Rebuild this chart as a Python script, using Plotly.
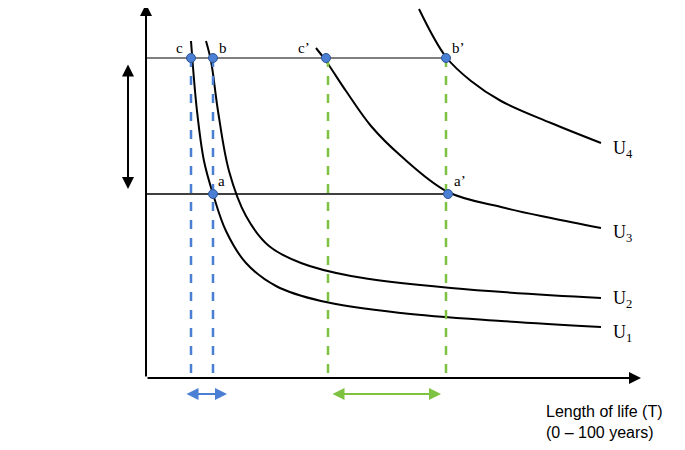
import plotly.graph_objects as go

# Diagram read in pixel-like units (x right, y down)
u1_x = [190, 196, 203, 212, 225, 245, 275, 320, 400, 500, 600]
u1_y = [40, 110, 160, 193, 230, 262, 285, 300, 312, 320, 326]
u2_x = [205, 210, 217, 228, 245, 268, 300, 350, 450, 600]
u2_y = [40, 60, 110, 170, 215, 245, 262, 275, 287, 297]
u3_x = [315, 325, 345, 370, 400, 447, 500, 550, 600]
u3_y = [47, 60, 90, 125, 155, 191, 206, 217, 227]
u4_x = [418, 445, 470, 500, 550, 600]
u4_y = [8, 56, 80, 100, 122, 142]
pt_labels = ["c", "b", "c’", "b’", "a", "a’"]
pt_x = [190, 212, 325, 445, 212, 447]
pt_y = [57, 57, 57, 57, 193, 193]
curve_labels = ["U<sub>4</sub>", "U<sub>3</sub>", "U<sub>2</sub>", "U<sub>1</sub>"]
curve_label_y = [148, 232, 298, 332]

fig = go.Figure()
for xs, ys in [(u1_x, u1_y), (u2_x, u2_y), (u3_x, u3_y), (u4_x, u4_y)]:
    fig.add_trace(go.Scatter(x=xs, y=ys, mode="lines", line=dict(color="black", width=2, shape="spline"), hoverinfo="skip"))
fig.add_trace(go.Scatter(x=[145, 445], y=[57, 57], mode="lines", line=dict(color="black", width=1)))
fig.add_trace(go.Scatter(x=[145, 447], y=[193, 193], mode="lines", line=dict(color="black", width=1.5)))
for xv, col, y0 in [(190, "#4a7fd4", 57), (212, "#4a7fd4", 57), (327, "#7ec242", 57), (445, "#7ec242", 57)]:
    fig.add_trace(go.Scatter(x=[xv, xv], y=[y0, 377], mode="lines", line=dict(color=col, width=2.5, dash="dash")))
fig.add_trace(go.Scatter(x=pt_x, y=pt_y, mode="markers",
                         marker=dict(color="#4a7fd4", size=9, line=dict(color="#2f5597", width=1))))

serif = dict(family="Liberation Serif", size=15, color="black")
offs = [(-12, -10), (10, -10), (-22, -10), (12, -10), (8, -13), (12, -13)]
for lab, x, y, (dx, dy) in zip(pt_labels, pt_x, pt_y, offs):
    fig.add_annotation(x=x + dx, y=y + dy, text=lab, showarrow=False, font=serif)
for lab, y in zip(curve_labels, curve_label_y):
    fig.add_annotation(x=610, y=y, text=lab, showarrow=False, xanchor="left",
                       font=dict(family="Liberation Serif", size=18, color="black"))

def arrow(x0, y0, x1, y1, col, side="end", w=2):
    fig.add_annotation(x=x1, y=y1, ax=x0, ay=y0, xref="x", yref="y", axref="x", ayref="y",
                       text="", showarrow=True, arrowhead=2, arrowsize=1.2, arrowwidth=w,
                       arrowcolor=col, arrowside=side)

arrow(145, 377, 145, 3, "black")
arrow(145, 377, 640, 377, "black")
arrow(127, 62, 127, 188, "black", "end+start")
arrow(184, 393, 226, 393, "#4a7fd4", "end+start")
arrow(330, 393, 440, 393, "#7ec242", "end+start")

sans = dict(family="Liberation Sans", size=16, color="black")
fig.add_annotation(x=0, y=176, text="Quantity<br>of HRQoL<br>(H) (on a<br>notional<br>scale)", showarrow=False,
                   xanchor="left", yanchor="top", align="left", font=sans)
fig.add_annotation(x=543, y=400, text="Length of life (T)<br>(0 – 100 years)", showarrow=False,
                   xanchor="left", yanchor="top", align="left", font=sans)

fig.update_layout(width=685, height=450, margin=dict(l=0, r=0, t=0, b=0), showlegend=False,
                  plot_bgcolor="white", paper_bgcolor="white",
                  xaxis=dict(range=[7, 692], visible=False),
                  yaxis=dict(range=[457, 7], visible=False))
fig.write_html("out.html")
